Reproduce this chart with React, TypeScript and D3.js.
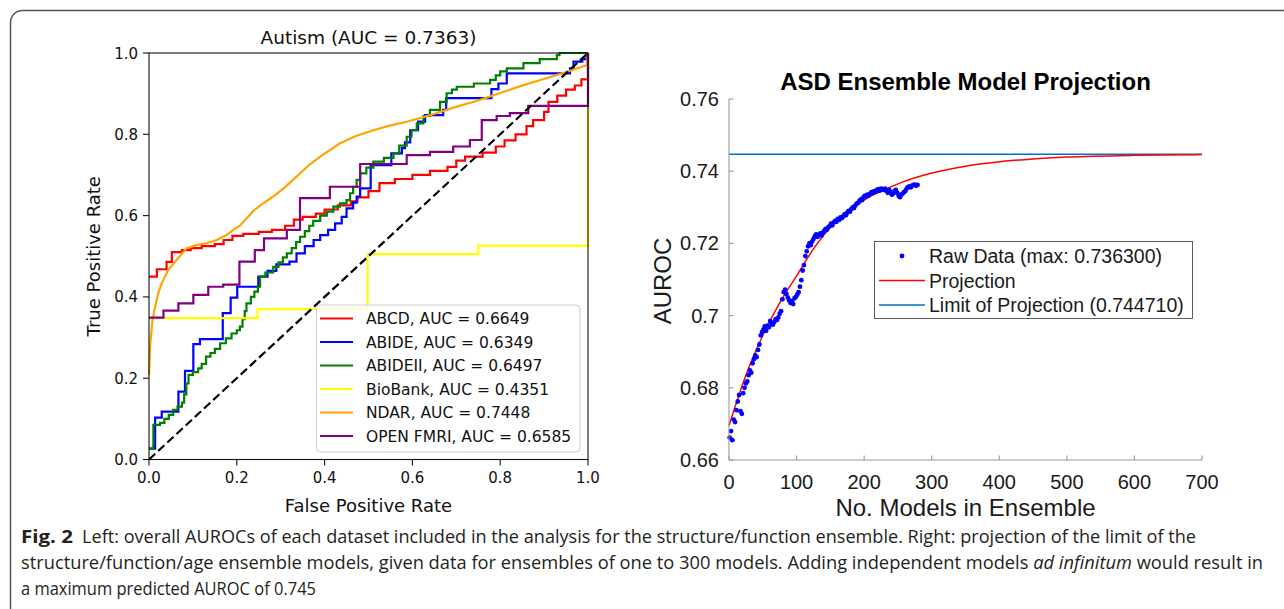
import React from 'react';
import * as d3 from 'd3';

// ---------- Left panel data (ROC curves) ----------
const rocTicks = [0, 0.2, 0.4, 0.6, 0.8, 1.0];
const rocNames = ['ABCD', 'ABIDE', 'ABIDEII', 'BioBank', 'NDAR', 'OPEN FMRI'];
const rocAucs = ['0.6649', '0.6349', '0.6497', '0.4351', '0.7448', '0.6585'];
const rocColors = ['#ff0000', '#0000ff', '#008000', '#ffff00', '#ffa500', '#800080'];

// step-after corner points [fpr, tpr]
const abcdRoc: [number, number][] = [
  [0, 0.45], [0.018, 0.468], [0.04, 0.486], [0.052, 0.51], [0.075, 0.515], [0.095, 0.52], [0.12, 0.525],
  [0.15, 0.53], [0.17, 0.54], [0.19, 0.55], [0.215, 0.555], [0.25, 0.56], [0.28, 0.565], [0.31, 0.575],
  [0.33, 0.59], [0.35, 0.597], [0.38, 0.605], [0.4, 0.615], [0.43, 0.625], [0.46, 0.635], [0.475, 0.645],
  [0.5, 0.66], [0.525, 0.68], [0.56, 0.69], [0.6, 0.7], [0.64, 0.71], [0.68, 0.72], [0.7, 0.735],
  [0.72, 0.745], [0.76, 0.755], [0.79, 0.77], [0.81, 0.785], [0.835, 0.8], [0.86, 0.82], [0.875, 0.835],
  [0.9, 0.855], [0.91, 0.88], [0.93, 0.895], [0.95, 0.91], [0.97, 0.92], [0.985, 0.935], [1, 1],
];
const abideRoc: [number, number][] = [
  [0, 0.027], [0.014, 0.103], [0.029, 0.118], [0.067, 0.167], [0.082, 0.218], [0.101, 0.284], [0.116, 0.296],
  [0.168, 0.36], [0.186, 0.398], [0.201, 0.425], [0.249, 0.45], [0.27, 0.464], [0.29, 0.48], [0.32, 0.487],
  [0.336, 0.507], [0.355, 0.525], [0.375, 0.54], [0.39, 0.552], [0.408, 0.565], [0.424, 0.581], [0.439, 0.597],
  [0.45, 0.618], [0.465, 0.632], [0.473, 0.647], [0.481, 0.667], [0.505, 0.724], [0.552, 0.753], [0.576, 0.766],
  [0.583, 0.78], [0.595, 0.81], [0.613, 0.831], [0.629, 0.847], [0.67, 0.86], [0.677, 0.889], [0.78, 0.911],
  [0.796, 0.925], [0.815, 0.95], [0.959, 0.962], [0.967, 0.979], [0.987, 0.985], [0.997, 1], [1, 1],
];
const abide2Roc: [number, number][] = [
  [0, 0.027], [0.01, 0.085], [0.025, 0.09], [0.035, 0.1], [0.045, 0.11], [0.055, 0.122], [0.065, 0.13],
  [0.075, 0.14], [0.08, 0.16], [0.085, 0.187], [0.09, 0.208], [0.1, 0.215], [0.112, 0.224], [0.12, 0.235],
  [0.13, 0.253], [0.14, 0.262], [0.15, 0.272], [0.162, 0.286], [0.175, 0.298], [0.188, 0.31], [0.2, 0.318],
  [0.207, 0.327], [0.213, 0.345], [0.218, 0.365], [0.222, 0.384], [0.232, 0.4], [0.24, 0.413], [0.248, 0.425],
  [0.253, 0.45], [0.265, 0.46], [0.283, 0.474], [0.295, 0.485], [0.305, 0.497], [0.314, 0.507], [0.325, 0.52],
  [0.335, 0.535], [0.344, 0.548], [0.355, 0.562], [0.365, 0.575], [0.374, 0.587], [0.39, 0.6], [0.405, 0.61],
  [0.42, 0.622], [0.435, 0.63], [0.45, 0.638], [0.458, 0.655], [0.465, 0.671], [0.473, 0.688], [0.481, 0.704],
  [0.495, 0.718], [0.511, 0.733], [0.535, 0.742], [0.557, 0.753], [0.57, 0.772], [0.587, 0.794], [0.598, 0.81],
  [0.61, 0.827], [0.625, 0.845], [0.64, 0.86], [0.663, 0.88], [0.678, 0.901], [0.69, 0.91], [0.701, 0.917],
  [0.74, 0.925], [0.777, 0.934], [0.79, 0.945], [0.8, 0.955], [0.815, 0.962], [0.853, 0.975], [0.89, 0.985],
  [0.929, 0.995], [0.935, 1], [1, 1],
];
const biobankRoc: [number, number][] = [
  [0, 0.348], [0.247, 0.37], [0.498, 0.505], [0.75, 0.526], [1, 1],
];
// polyline points
const ndarRoc: [number, number][] = [
  [0, 0.208], [0.003, 0.286], [0.008, 0.343], [0.014, 0.376], [0.021, 0.409], [0.029, 0.434], [0.044, 0.466],
  [0.063, 0.491], [0.086, 0.52], [0.11, 0.528], [0.131, 0.532], [0.154, 0.54], [0.177, 0.552], [0.192, 0.565],
  [0.207, 0.575], [0.238, 0.612], [0.26, 0.63], [0.283, 0.647], [0.31, 0.67], [0.344, 0.704], [0.365, 0.725],
  [0.39, 0.745], [0.435, 0.778], [0.47, 0.795], [0.511, 0.81], [0.55, 0.822], [0.587, 0.831], [0.64, 0.847],
  [0.701, 0.868], [0.74, 0.88], [0.777, 0.893], [0.815, 0.907], [0.853, 0.921], [0.89, 0.933], [0.929, 0.946],
  [0.96, 0.957], [0.997, 0.97], [1, 1],
];
const openfmriRoc: [number, number][] = [
  [0, 0.349], [0.033, 0.366], [0.067, 0.384], [0.101, 0.405], [0.135, 0.425], [0.169, 0.43], [0.206, 0.487],
  [0.241, 0.515], [0.262, 0.544], [0.314, 0.565], [0.344, 0.643], [0.412, 0.671], [0.481, 0.727], [0.587, 0.749],
  [0.64, 0.757], [0.693, 0.77], [0.731, 0.786], [0.758, 0.835], [0.792, 0.845], [0.822, 0.852], [0.864, 0.87],
  [1, 1],
];
const rocData = [abcdRoc, abideRoc, abide2Roc, biobankRoc, ndarRoc, openfmriRoc];
const rocStepped = [true, true, true, true, false, true];

// ---------- Right panel data (ensemble projection) ----------
const ensXTicks = [0, 100, 200, 300, 400, 500, 600, 700];
const ensYTicks = [0.66, 0.68, 0.7, 0.72, 0.74, 0.76];
const rawModels = d3.range(1, 281, 2);
const rawAuroc = [
  0.6662, 0.668, 0.6655, 0.6712, 0.6705, 0.6738, 0.6762, 0.678, 0.6735, 0.6728,
  0.6785, 0.68, 0.6812, 0.6818, 0.6835, 0.6848, 0.6842, 0.6868, 0.688, 0.689,
  0.6885, 0.6905, 0.692, 0.6945, 0.6955, 0.6962, 0.697, 0.6958, 0.6972, 0.6968,
  0.6985, 0.6978, 0.6975, 0.6982, 0.699, 0.6988, 0.6995, 0.7005, 0.7012, 0.7045,
  0.7065, 0.7072, 0.706, 0.705, 0.7042, 0.7035, 0.704, 0.7032, 0.7048, 0.7052,
  0.7058, 0.7065, 0.708, 0.7098, 0.7125, 0.714, 0.7165, 0.7178, 0.7192, 0.72,
  0.7195, 0.7205, 0.7212, 0.722, 0.7225, 0.7218, 0.7222, 0.7228, 0.7222, 0.723,
  0.7235, 0.724, 0.7238, 0.7245, 0.7248, 0.7255, 0.725, 0.7258, 0.7262, 0.726,
  0.7268, 0.7265, 0.7272, 0.727, 0.7275, 0.728, 0.7278, 0.7285, 0.729, 0.7288,
  0.7295, 0.73, 0.7298, 0.7305, 0.731, 0.7312, 0.7318, 0.7322, 0.732, 0.7328,
  0.7332, 0.733, 0.7335, 0.7333, 0.7338, 0.7342, 0.734, 0.7345, 0.7343, 0.7348,
  0.735, 0.7346, 0.7352, 0.735, 0.7348, 0.7352, 0.7345, 0.734, 0.7348, 0.7342,
  0.7335, 0.7338, 0.7345, 0.7348, 0.734, 0.7332, 0.7328, 0.7335, 0.7338, 0.7342,
  0.7345, 0.7352, 0.7356, 0.7358, 0.7355, 0.736, 0.7362, 0.7363, 0.736, 0.7362,
];
const projModels = [0, 25, 50, 75, 100, 125, 150, 200, 250, 300, 350, 400, 450, 500, 600, 700];
const projAuroc = [0.6695, 0.6835, 0.6945, 0.7035, 0.711, 0.7185, 0.7245, 0.732, 0.7365, 0.7395, 0.7414, 0.7426, 0.7434, 0.7439, 0.7444, 0.7446];
const projLimit = 0.74471;
const ensLegend = ['Raw Data (max: 0.736300)', 'Projection', 'Limit of Projection (0.744710)'];

const captionLines = [
  'Left: overall AUROCs of each dataset included in the analysis for the structure/function ensemble. Right: projection of the limit of the',
  'structure/function/age ensemble models, given data for ensembles of one to 300 models. Adding independent models ',
  'a maximum predicted AUROC of 0.745',
];

const dejavu = "'DejaVu Sans', sans-serif";
const helv = "'Liberation Sans', Arial, sans-serif";
const capFont = "'Liberation Sans Narrow', 'Open Sans', sans-serif";

export default function App() {
  // left scales
  const xL = d3.scaleLinear().domain([0, 1]).range([149, 588]);
  const yL = d3.scaleLinear().domain([0, 1]).range([459.5, 53]);
  const stepLine = d3.line<[number, number]>().x(d => xL(d[0])).y(d => yL(d[1])).curve(d3.curveStepAfter);
  const polyLine = d3.line<[number, number]>().x(d => xL(d[0])).y(d => yL(d[1]));

  // right scales
  const xR = d3.scaleLinear().domain([0, 700]).range([729, 1202]);
  const yR = d3.scaleLinear().domain([0.66, 0.76]).range([460, 99]);
  const projLine = d3.line<number>().x((_, i) => xR(projModels[i])).y(d => yR(d)).curve(d3.curveMonotoneX);

  const legX = 316.5, legY = 305, legW = 263.5, legH = 147;

  return (
    <svg width={1284} height={609} style={{ position: 'absolute', left: 0, top: 0, background: '#fff' }}>
      <rect x={10.5} y={10.5} width={1400} height={800} rx={12} fill="none" stroke="#555" strokeWidth={1.5} />

      {/* ---------------- Left panel ---------------- */}
      <text x={(xL(0) + xL(1)) / 2} y={43.5} textAnchor="middle" fontFamily={dejavu} fontSize={18.5} fill="#111">
        Autism (AUC = 0.7363)
      </text>
      {rocData.map((pts, i) => (
        <path key={rocNames[i]} d={(rocStepped[i] ? stepLine : polyLine)(pts) || ''} fill="none"
          stroke={rocColors[i]} strokeWidth={2.2} strokeLinejoin="miter" />
      ))}
      <path d={polyLine([[0, 0], [1, 1]]) || ''} stroke="#000" strokeWidth={2.2} strokeDasharray="8.5 4" fill="none" />
      <rect x={xL(0)} y={yL(1)} width={xL(1) - xL(0)} height={yL(0) - yL(1)} fill="none" stroke="#111" strokeWidth={1.1} />
      {rocTicks.map(t => (
        <g key={'lx' + t}>
          <line x1={xL(t)} x2={xL(t)} y1={yL(0)} y2={yL(0) + 6} stroke="#111" strokeWidth={1.1} />
          <text x={xL(t)} y={yL(0) + 23} textAnchor="middle" fontFamily={dejavu} fontSize={15} fill="#111">{t.toFixed(1)}</text>
          <line x1={xL(0) - 6} x2={xL(0)} y1={yL(t)} y2={yL(t)} stroke="#111" strokeWidth={1.1} />
          <text x={xL(0) - 11} y={yL(t) + 5.5} textAnchor="end" fontFamily={dejavu} fontSize={15} fill="#111">{t.toFixed(1)}</text>
        </g>
      ))}
      <text x={(xL(0) + xL(1)) / 2} y={512} textAnchor="middle" fontFamily={dejavu} fontSize={18} fill="#111">False Positive Rate</text>
      <text transform={`translate(100,${(yL(0) + yL(1)) / 2}) rotate(-90)`} textAnchor="middle" fontFamily={dejavu} fontSize={18} fill="#111">True Positive Rate</text>
      <rect x={legX} y={legY} width={legW} height={legH} rx={4} fill="#fff" fillOpacity={0.8} stroke="#cccccc" strokeWidth={1} />
      {rocNames.map((n, i) => {
        const y = 318.5 + i * 23.5;
        return (
          <g key={'leg' + n}>
            <line x1={320} x2={353} y1={y} y2={y} stroke={rocColors[i]} strokeWidth={2.2} />
            <text x={366} y={y + 5.5} fontFamily={dejavu} fontSize={15.5} fill="#111">{`${n}, AUC = ${rocAucs[i]}`}</text>
          </g>
        );
      })}

      {/* ---------------- Right panel ---------------- */}
      <text x={(xR(0) + xR(700)) / 2} y={89.5} textAnchor="middle" fontFamily={helv} fontWeight="bold" fontSize={24} fill="#000">
        ASD Ensemble Model Projection
      </text>
      <line x1={xR(0)} x2={xR(700)} y1={yR(projLimit)} y2={yR(projLimit)} stroke="#0072bd" strokeWidth={1.6} />
      <path d={projLine(projAuroc) || ''} fill="none" stroke="#ff0000" strokeWidth={1.5} />
      {rawAuroc.map((v, i) => (
        <circle key={'r' + i} cx={xR(rawModels[i])} cy={yR(v)} r={2.4} fill="#0000ff" />
      ))}
      <line x1={xR(0)} x2={xR(700)} y1={yR(0.66)} y2={yR(0.66)} stroke="#9a9a9a" strokeWidth={1.1} />
      <line x1={xR(0)} x2={xR(0)} y1={yR(0.66)} y2={yR(0.76)} stroke="#9a9a9a" strokeWidth={1.1} />
      {ensXTicks.map(t => (
        <g key={'rx' + t}>
          <line x1={xR(t)} x2={xR(t)} y1={yR(0.66)} y2={yR(0.66) - 4.5} stroke="#9a9a9a" strokeWidth={1.1} />
          <text x={xR(t)} y={488.5} textAnchor="middle" fontFamily={helv} fontSize={20} fill="#1a1a1a">{t}</text>
        </g>
      ))}
      {ensYTicks.map(t => (
        <g key={'ry' + t}>
          <line x1={xR(0)} x2={xR(0) + 4.5} y1={yR(t)} y2={yR(t)} stroke="#9a9a9a" strokeWidth={1.1} />
          <text x={719} y={yR(t) + 7} textAnchor="end" fontFamily={helv} fontSize={20} fill="#1a1a1a">{String(+t.toFixed(2))}</text>
        </g>
      ))}
      <text x={(xR(0) + xR(700)) / 2} y={515.5} textAnchor="middle" fontFamily={helv} fontSize={24} fill="#1a1a1a">No. Models in Ensemble</text>
      <text transform={`translate(670.5,281) rotate(-90)`} textAnchor="middle" fontFamily={helv} fontSize={24} fill="#1a1a1a">AUROC</text>

      <rect x={874.5} y={241.5} width={318} height={77} fill="#fff" stroke="#333" strokeWidth={0.8} />
      {ensLegend.map((s, i) => {
        const y = 256 + i * 24.5;
        return (
          <g key={'el' + i}>
            {i === 0 ? <circle cx={902} cy={y} r={2.4} fill="#0000ff" /> :
              <line x1={879} x2={925} y1={y} y2={y} stroke={i === 1 ? '#ff0000' : '#0072bd'} strokeWidth={1.6} />}
            <text x={929} y={y + 7} fontFamily={helv} fontSize={19.5} fill="#1a1a1a">{s}</text>
          </g>
        );
      })}

      {/* ---------------- Caption ---------------- */}
      <text x={21} y={543} fontFamily={capFont} fontWeight="bold" fontSize={18} fill="#231f20" textLength={52} lengthAdjust="spacingAndGlyphs">Fig. 2</text>
      <text x={82} y={543} fontFamily={capFont} fontSize={18} fill="#231f20" textLength={1114} lengthAdjust="spacingAndGlyphs">{captionLines[0]}</text>
      <text x={21} y={569} fontFamily={capFont} fontSize={18} fill="#231f20" textLength={1242} lengthAdjust="spacingAndGlyphs">
        {captionLines[1]}<tspan fontStyle="italic">ad infinitum</tspan> would result in
      </text>
      <text x={21} y={595} fontFamily={capFont} fontSize={18} fill="#231f20" textLength={295} lengthAdjust="spacingAndGlyphs">{captionLines[2]}</text>
    </svg>
  );
}
